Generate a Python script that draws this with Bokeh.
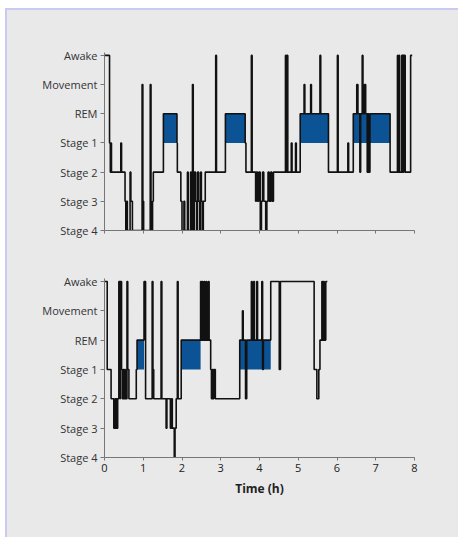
from bokeh.plotting import figure
from bokeh.models import Range1d, FixedTicker
from bokeh.layouts import column
from bokeh.embed import file_html
from bokeh.resources import INLINE

# ---- data -------------------------------------------------------------
# stage codes: 0=Stage 4, 1=Stage 3, 2=Stage 2, 3=Stage 1, 4=REM, 5=Movement, 6=Awake
stage_labels = ["Stage 4", "Stage 3", "Stage 2", "Stage 1", "REM", "Movement", "Awake"]
hour_ticks = [0, 1, 2, 3, 4, 5, 6, 7, 8]

night1_hours = [0.00, 0.13, 0.15, 0.16, 0.18, 0.42, 0.44, 0.53, 0.55, 0.57, 0.59, 0.66,
                0.68, 0.72, 0.97, 0.99, 1.01, 1.18, 1.20, 1.24, 1.26, 1.52, 1.87, 1.88,
                1.97, 2.00, 2.05, 2.07, 2.14, 2.16, 2.22, 2.24, 2.27, 2.29, 2.32, 2.35,
                2.38, 2.40, 2.43, 2.46, 2.48, 2.50, 2.53, 2.55, 2.60, 2.87, 2.89, 3.12,
                3.63, 3.65, 3.79, 3.81, 3.90, 3.92, 3.95, 3.98, 4.02, 4.05, 4.08, 4.11,
                4.16, 4.19, 4.22, 4.25, 4.29, 4.32, 4.36, 4.40, 4.67, 4.69, 4.71, 4.73,
                4.82, 4.84, 4.93, 4.95, 5.05, 5.15, 5.17, 5.32, 5.34, 5.56, 5.58, 5.78,
                6.01, 6.03, 6.28, 6.30, 6.42, 6.51, 6.54, 6.59, 6.61, 6.65, 6.67, 6.71,
                6.74, 6.78, 6.80, 6.82, 6.85, 7.37, 7.56, 7.575, 7.60, 7.615, 7.67, 7.69,
                7.70, 7.72, 7.73, 7.76, 7.90]
night1_stages = [6, 3, 2, 3, 2, 3, 2, 1, 0, 1, 0, 2,
                 1, 0, 5, 1, 0, 5, 0, 1, 2, 4, 3, 2,
                 1, 0, 1, 0, 2, 0, 2, 0, 5, 0, 2, 1,
                 0, 2, 1, 0, 2, 1, 0, 1, 2, 6, 2, 4,
                 3, 2, 6, 2, 1, 2, 1, 2, 0, 1, 2, 1,
                 0, 1, 2, 1, 2, 1, 2, 2, 6, 2, 6, 2,
                 3, 2, 3, 2, 4, 5, 4, 5, 4, 6, 4, 2,
                 6, 2, 3, 2, 4, 5, 4, 2, 4, 6, 4, 5,
                 4, 2, 4, 2, 4, 2, 6, 2, 6, 2, 6, 2,
                 6, 2, 6, 2, 6]
night1_end = 7.94
night1_rem_start = [1.52, 3.12, 5.05, 6.42]
night1_rem_end = [1.87, 3.63, 5.78, 7.37]

night2_hours = [0.00, 0.07, 0.17, 0.24, 0.27, 0.29, 0.31, 0.32, 0.34, 0.37, 0.40, 0.41,
                0.44, 0.46, 0.48, 0.50, 0.52, 0.54, 0.58, 0.60, 0.63, 0.82, 0.84, 1.02,
                1.06, 1.23, 1.25, 1.27, 1.46, 1.48, 1.59, 1.61, 1.70, 1.73, 1.75, 1.80,
                1.82, 1.85, 1.88, 1.90, 1.98, 2.48, 2.50, 2.52, 2.54, 2.57, 2.59, 2.62,
                2.64, 2.68, 2.70, 2.74, 2.76, 2.78, 2.80, 2.82, 2.86, 3.49, 3.56, 3.58,
                3.64, 3.67, 3.79, 3.81, 3.85, 3.87, 3.93, 3.95, 4.06, 4.08, 4.10, 4.29,
                4.51, 4.54, 5.41, 5.48, 5.53, 5.56, 5.61, 5.63, 5.65, 5.67, 5.71]
night2_stages = [6, 3, 2, 1, 2, 1, 2, 1, 2, 6, 2, 6,
                 3, 2, 3, 2, 3, 2, 6, 3, 2, 3, 4, 6,
                 2, 6, 3, 2, 6, 2, 1, 2, 1, 2, 1, 0,
                 1, 2, 6, 2, 4, 6, 4, 6, 4, 6, 4, 6,
                 4, 6, 4, 3, 2, 3, 2, 3, 2, 4, 5, 4,
                 2, 4, 6, 4, 6, 4, 6, 4, 6, 3, 4, 6,
                 3, 6, 3, 2, 3, 4, 6, 4, 6, 4, 6]
night2_end = 5.75
night2_rem_start = [0.84, 1.98, 3.49]
night2_rem_end = [1.02, 2.48, 4.29]

# ---- style ------------------------------------------------------------
BG = "#e9e9e9"
REM_BLUE = "#0b5394"
FONT = "Open Sans"


def make_fig(hours, stages, end, rem_start, rem_end, height, b_top, b_bottom, x_labels):
    p = figure(width=451, height=height,
               x_range=Range1d(0, 8), y_range=Range1d(0, 6.1),
               output_backend="svg", toolbar_location=None,
               min_border_left=97, min_border_right=44,
               min_border_top=b_top, min_border_bottom=b_bottom)
    p.background_fill_color = BG
    p.border_fill_color = BG
    p.outline_line_color = None
    p.xgrid.visible = False
    p.ygrid.visible = False

    p.quad(left=rem_start, right=rem_end, bottom=3, top=4,
           fill_color=REM_BLUE, line_color=None)
    xs = list(hours) + [end]
    ys = list(stages) + [stages[-1]]
    p.step(xs, ys, mode="after", line_color="#111111", line_width=1.6)

    ya = p.yaxis[0]
    ya.ticker = FixedTicker(ticks=list(range(len(stage_labels))))
    ya.major_label_overrides = {i: s for i, s in enumerate(stage_labels)}
    ya.minor_tick_line_color = None
    ya.major_tick_out = 4
    ya.major_tick_in = 0
    ya.major_label_standoff = 3
    ya.axis_line_color = "#777777"
    ya.major_tick_line_color = "#777777"
    ya.major_label_text_font = FONT
    ya.major_label_text_font_size = "11px"
    ya.major_label_text_color = "#333333"

    xa = p.xaxis[0]
    xa.ticker = FixedTicker(ticks=hour_ticks)
    xa.minor_tick_line_color = None
    xa.major_tick_out = 3
    xa.major_tick_in = 0
    xa.axis_line_color = "#777777"
    xa.major_tick_line_color = "#777777"
    xa.major_label_text_font = FONT
    xa.major_label_text_font_size = "11px"
    xa.major_label_standoff = 3
    if x_labels:
        xa.major_label_text_color = "#222222"
        xa.axis_label = "Time (h)"
        xa.axis_label_text_font = FONT
        xa.axis_label_text_font_style = "bold"
        xa.axis_label_text_font_size = "12px"
        xa.axis_label_text_color = "#222222"
        xa.axis_label_standoff = 5
    else:
        xa.major_label_text_color = None
    return p


p1 = make_fig(night1_hours, night1_stages, night1_end, night1_rem_start, night1_rem_end,
              250, 42, 30, False)
p2 = make_fig(night2_hours, night2_stages, night2_end, night2_rem_start, night2_rem_end,
              277, 18, 80, True)

layout = column(p1, p2, spacing=0,
                styles={"margin-left": "5px", "margin-top": "8px",
                        "border-left": "2px solid #c9c9f2",
                        "border-top": "2px solid #c9c9f2",
                        "background-color": BG})

open("out.html", "w").write(file_html(layout, INLINE))
